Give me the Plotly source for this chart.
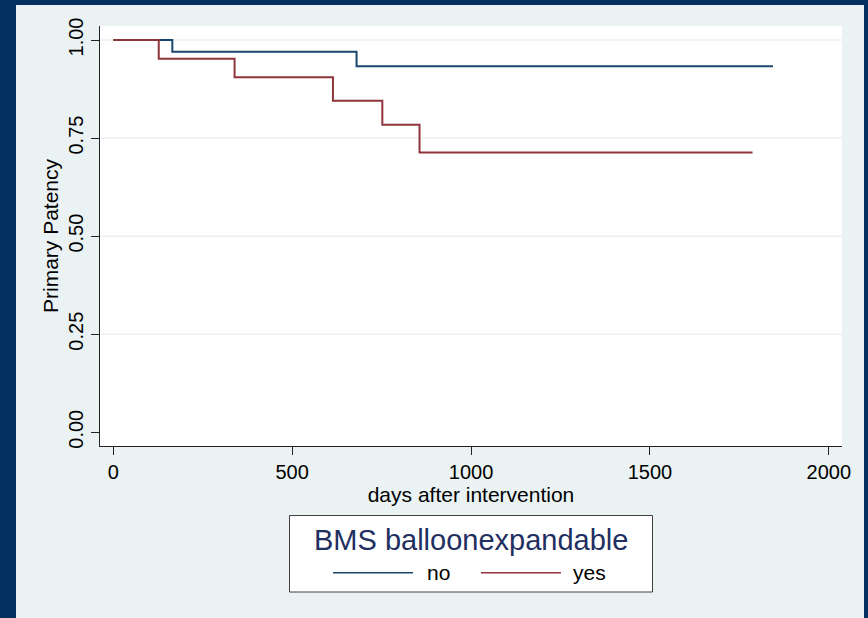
import plotly.graph_objects as go

# Kaplan-Meier step estimates by stent group
no_days = [0, 165, 680, 1844]
no_surv = [1.0, 0.970, 0.933, 0.933]
yes_days = [0, 127, 339, 614, 752, 856, 1787]
yes_surv = [1.0, 0.952, 0.905, 0.845, 0.784, 0.713, 0.713]

x_ticks = [0, 500, 1000, 1500, 2000]
y_ticks = [0.0, 0.25, 0.50, 0.75, 1.00]
y_tick_text = ["0.00", "0.25", "0.50", "0.75", "1.00"]

group_names = ["no", "yes"]
group_colors = ["#1a476f", "#90353b"]
legend_title = "BMS balloonexpandable"

W, H = 868, 618
L, R, T, B = 100, 26, 26, 172
pw, ph = W - L - R, H - T - B

NAVY = "#03305f"
BG = "#eaf2f3"
FONT = "Liberation Sans, Arial, Helvetica, sans-serif"


def px_x(p):
    return (p - L) / pw


def px_y(p):
    return (H - B - p) / ph


fig = go.Figure()
for days, surv, name, color in zip([no_days, yes_days], [no_surv, yes_surv], group_names, group_colors):
    fig.add_trace(go.Scatter(
        x=days, y=surv, mode="lines", name=name,
        line=dict(color=color, width=2, shape="hv"),
        showlegend=False, hoverinfo="skip",
    ))

shapes = []
# horizontal grid lines
for v in y_ticks:
    if v > 0:
        shapes.append(dict(type="line", xref="paper", yref="y", x0=0, x1=1, y0=v, y1=v,
                           line=dict(color=BG, width=1.5), layer="below"))
# frame around the graph region
shapes += [
    dict(type="rect", xref="paper", yref="paper", x0=px_x(0), x1=px_x(16), y0=px_y(H), y1=px_y(0),
         fillcolor=NAVY, line=dict(width=0), layer="above"),
    dict(type="rect", xref="paper", yref="paper", x0=px_x(0), x1=px_x(W), y0=px_y(5), y1=px_y(0),
         fillcolor=NAVY, line=dict(width=0), layer="above"),
    dict(type="rect", xref="paper", yref="paper", x0=px_x(864), x1=px_x(W), y0=px_y(H), y1=px_y(0),
         fillcolor=NAVY, line=dict(width=0), layer="above"),
]
# legend box
shapes.append(dict(type="rect", xref="paper", yref="paper",
                   x0=px_x(289.5), x1=px_x(652.5), y0=px_y(592), y1=px_y(515.5),
                   fillcolor="white", line=dict(color="#404040", width=1), layer="above"))
item_y = 572.7
line_spans = [(333, 413), (481, 561)]
text_left = [427, 573]
annotations = [dict(text=legend_title, xref="paper", yref="paper", x=px_x(471), y=px_y(539.5),
                    xanchor="center", yanchor="middle", showarrow=False,
                    font=dict(family=FONT, size=29, color="#1f2f5f"))]
for (a, b), tl, name, color in zip(line_spans, text_left, group_names, group_colors):
    shapes.append(dict(type="line", xref="paper", yref="paper", x0=px_x(a), x1=px_x(b),
                       y0=px_y(item_y), y1=px_y(item_y), line=dict(color=color, width=1.5),
                       layer="above"))
    annotations.append(dict(text=name, xref="paper", yref="paper", x=px_x(tl - 2), y=px_y(item_y),
                            xanchor="left", yanchor="middle", showarrow=False,
                            font=dict(family=FONT, size=21, color="black")))

fig.update_layout(
    width=W, height=H,
    margin=dict(l=L, r=R, t=T, b=B, pad=0),
    paper_bgcolor=BG, plot_bgcolor="white",
    font=dict(family=FONT, color="black"),
    shapes=shapes, annotations=annotations,
    xaxis=dict(
        range=[-37.2, 2037], tickvals=x_ticks, ticktext=[str(v) for v in x_ticks],
        showgrid=False, zeroline=False, showline=True, linecolor="#222", linewidth=1,
        ticks="outside", ticklen=8, tickcolor="#222", tickwidth=1,
        tickfont=dict(size=20),
        title=dict(text="days after intervention", font=dict(size=21), standoff=0),
    ),
    yaxis=dict(
        range=[-0.035, 1.0357], tickvals=y_ticks, ticktext=y_tick_text, tickangle=-90,
        showgrid=False, zeroline=False, showline=True, linecolor="#222", linewidth=1,
        ticks="outside", ticklen=8, tickcolor="#222", tickwidth=1,
        tickfont=dict(size=20),
        title=dict(text="Primary Patency", font=dict(size=21), standoff=0),
    ),
)

fig.write_html("out.html")
